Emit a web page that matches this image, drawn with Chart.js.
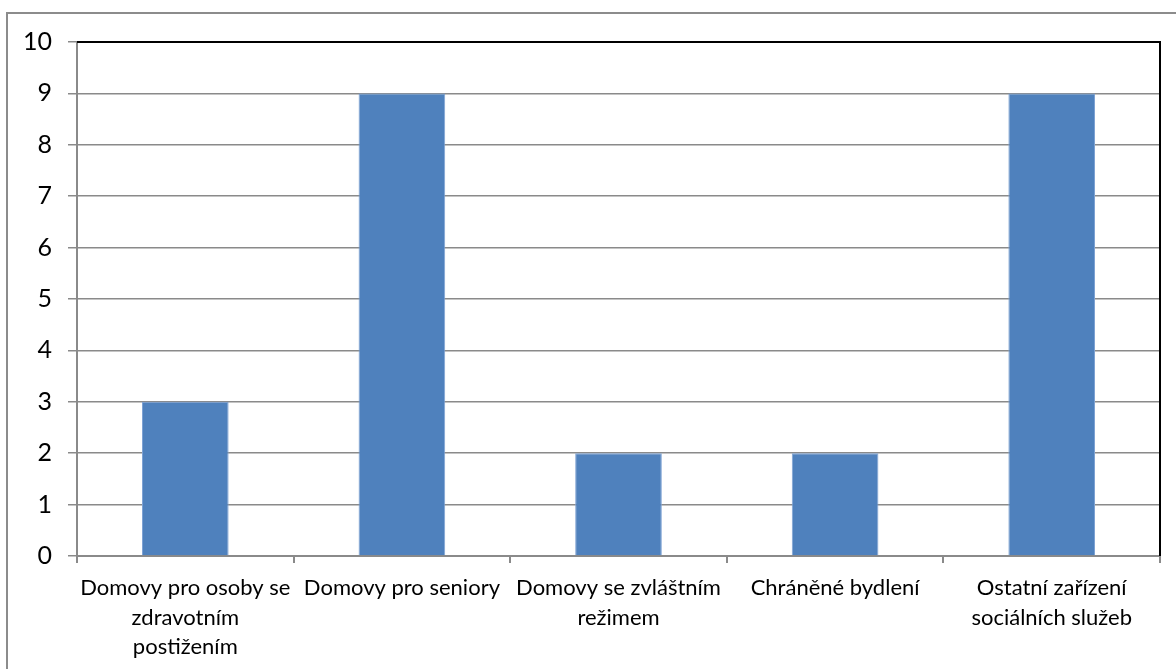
<!DOCTYPE html>
<html><head><meta charset="utf-8">
<script src="https://cdn.jsdelivr.net/npm/chart.js@4/dist/chart.umd.min.js"></script>
<style>html,body{margin:0;padding:0;background:#fff;}#wrap{width:1176px;height:669px;position:relative;}</style>
</head><body><div id="wrap"><canvas id="c" width="1176" height="669"></canvas></div>
<script>
const categories = [
  ["Domovy pro osoby se", "zdravotním", "postižením"],
  ["Domovy pro seniory"],
  ["Domovy se zvláštním", "režimem"],
  ["Chráněné bydlení"],
  ["Ostatní zařízení", "sociálních služeb"]
];
const values = [3, 9, 2, 2, 9];
const yTicks = [0,1,2,3,4,5,6,7,8,9,10];

const FONT = "Lato, 'Open Sans', sans-serif";
const frame = {
  id: 'frame',
  beforeDraw(chart){
    const ctx = chart.ctx;
    ctx.save();
    ctx.strokeStyle = '#8c8c8c'; ctx.lineWidth = 2;
    ctx.strokeRect(7, 13, 1176, 700);
    ctx.restore();
  },
  afterDatasetsDraw(chart){
    const a = chart.chartArea, ctx = chart.ctx;
    ctx.save();
    ctx.strokeStyle = '#000'; ctx.lineWidth = 2;
    ctx.beginPath();
    ctx.moveTo(a.left, a.top); ctx.lineTo(a.right, a.top); ctx.lineTo(a.right, a.bottom);
    ctx.stroke();
    ctx.restore();
  }
};
new Chart(document.getElementById('c'), {
  type: 'bar',
  data: { labels: categories, datasets: [{ data: values, backgroundColor: '#4F81BD', borderColor: '#7fa3d4', borderWidth: 1, categoryPercentage: 0.4, barPercentage: 1 }] },
  options: {
    responsive: false, animation: false,
    layout: { padding: { left: 0, top: 42, right: 16, bottom: 0 } },
    plugins: { legend: { display: false }, tooltip: { enabled: false } },
    scales: {
      y: {
        min: 0, max: 10,
        afterBuildTicks(s){ s.ticks = yTicks.map(v => ({value: v})); },
        afterFit(s){ s.width = 77; },
        ticks: { color: '#000', font: { family: FONT, size: 25 }, padding: 16 },
        grid: { color: '#8a8a8a', lineWidth: 1.5, tickLength: 9 },
        border: { color: '#8a8a8a', width: 2 }
      },
      x: {
        afterFit(s){ s.height = 113; },
        ticks: { color: '#000', font: { family: FONT, size: 22, lineHeight: 1.35 }, padding: 10, maxRotation: 0, autoSkip: false },
        grid: { display: true, drawOnChartArea: false, offset: true, color: '#8a8a8a', lineWidth: 2, tickLength: 7 },
        border: { color: '#8a8a8a', width: 2 }
      }
    }
  },
  plugins: [frame]
});
</script></body></html>
